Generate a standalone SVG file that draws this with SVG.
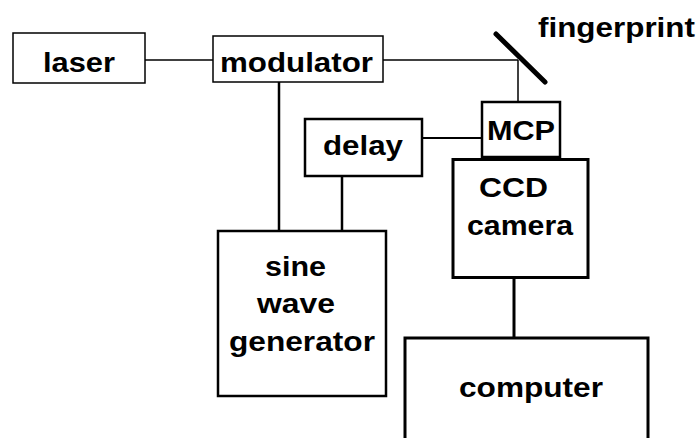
<svg xmlns="http://www.w3.org/2000/svg" width="700" height="438" viewBox="0 0 700 438">
<style>
.box{fill:#fff;stroke:#000}
.t{font-family:"Liberation Sans",Arial,sans-serif;font-weight:bold;font-size:27px;fill:#000}
.c{stroke:#000;fill:none}
</style>
<rect width="700" height="438" fill="#fff"/>
<g id="connectors">
<line class="c" x1="145" y1="60" x2="213" y2="60" stroke-width="1.5"/>
<line class="c" x1="383" y1="60" x2="518" y2="60" stroke-width="1.5"/>
<line class="c" x1="518" y1="60" x2="518" y2="102" stroke-width="1.5"/>
<line class="c" x1="422" y1="138" x2="482" y2="138" stroke-width="2"/>
<line class="c" x1="279" y1="82" x2="279" y2="231" stroke-width="2.5"/>
<line class="c" x1="342" y1="176" x2="342" y2="231" stroke-width="2.5"/>
<line class="c" x1="514" y1="278" x2="514" y2="338" stroke-width="3"/>
</g>
<g id="laser">
<rect class="box" x="13" y="33" width="132" height="50" stroke-width="1.5"/>
<text class="t" x="43" y="72" textLength="72" lengthAdjust="spacingAndGlyphs">laser</text>
</g>
<g id="modulator">
<rect class="box" x="213" y="36" width="170" height="46" stroke-width="1.5"/>
<text class="t" x="220" y="72" textLength="153" lengthAdjust="spacingAndGlyphs">modulator</text>
</g>
<g id="fingerprint">
<line x1="496" y1="34" x2="545" y2="82" stroke="#000" stroke-width="5" stroke-linecap="round"/>
<text class="t" x="538" y="37" textLength="157" lengthAdjust="spacingAndGlyphs">fingerprint</text>
</g>
<g id="mcp">
<rect class="box" x="482" y="102" width="78" height="55" stroke-width="2.5"/>
<text class="t" x="487" y="140" textLength="68" lengthAdjust="spacingAndGlyphs">MCP</text>
</g>
<g id="delay">
<rect class="box" x="305" y="119" width="117" height="57" stroke-width="2.5"/>
<text class="t" x="323" y="155" textLength="80" lengthAdjust="spacingAndGlyphs">delay</text>
</g>
<g id="ccd">
<rect class="box" x="453" y="159.5" width="135" height="118" stroke-width="3"/>
<text class="t" x="479" y="197" textLength="69" lengthAdjust="spacingAndGlyphs">CCD</text>
<text class="t" x="467" y="235" textLength="106" lengthAdjust="spacingAndGlyphs">camera</text>
</g>
<g id="sine">
<rect class="box" x="218" y="231" width="168" height="165" stroke-width="2.5"/>
<text class="t" x="265" y="276" textLength="61" lengthAdjust="spacingAndGlyphs">sine</text>
<text class="t" x="257" y="313" textLength="78" lengthAdjust="spacingAndGlyphs">wave</text>
<text class="t" x="229" y="351" textLength="146" lengthAdjust="spacingAndGlyphs">generator</text>
</g>
<g id="computer">
<rect class="box" x="405" y="338" width="243" height="110" stroke-width="3"/>
<text class="t" x="459" y="397" textLength="144" lengthAdjust="spacingAndGlyphs">computer</text>
</g>
</svg>
